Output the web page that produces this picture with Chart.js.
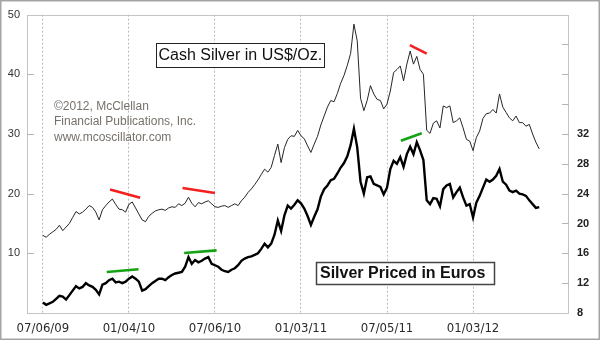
<!DOCTYPE html>
<html>
<head>
<meta charset="utf-8">
<script src="https://cdn.jsdelivr.net/npm/chart.js@4/dist/chart.umd.min.js"></script>
<style>
  html, body { margin: 0; padding: 0; background: #fff; }
  #wrap { position: relative; width: 600px; height: 341px; }
</style>
</head>
<body>
<div id="wrap"><canvas id="chart" width="600" height="341"></canvas></div>
<script>
// Weekly closes, week 0 = 07/06/09
const usdPrice = [
  13.0, 12.7, 13.2, 13.6, 14.0, 14.7, 13.8, 14.4, 15.0, 16.0,
  17.0, 16.6, 16.9, 17.4, 18.0, 17.7, 16.9, 15.6, 17.3, 18.0,
  18.6, 19.1, 18.2, 17.4, 17.3, 16.9, 18.2, 18.6, 17.6, 16.6,
  15.6, 15.3, 16.2, 16.7, 17.1, 17.3, 17.4, 17.2, 17.6, 17.8,
  17.7, 18.3, 18.0, 18.4, 19.4, 18.4, 17.8, 18.5, 18.3, 18.6,
  18.8, 18.3, 17.8, 17.7, 17.9, 18.0, 17.7, 18.0, 18.3, 18.0,
  18.8, 19.4, 20.2, 20.8, 21.5, 22.3, 23.2, 24.1, 23.6, 24.4,
  26.4, 28.3, 25.2, 27.7, 29.1, 29.7, 29.6, 30.6, 29.7, 29.2,
  28.0, 26.9, 28.3, 29.6, 31.5, 33.0, 34.5, 35.6, 35.4, 36.8,
  38.5, 39.8, 41.5, 43.5, 48.4, 45.6, 36.0, 33.9, 35.6, 38.1,
  36.7, 35.8, 35.6, 34.2, 35.0, 37.2, 40.3, 40.8, 41.4, 38.9,
  41.7, 43.9, 41.7, 43.0, 40.8, 40.0, 30.6, 30.1, 31.8, 32.2,
  31.0, 34.7, 34.4, 34.7, 31.9, 32.2, 32.7, 31.0, 29.1, 28.8,
  27.2, 29.4, 30.5, 32.6, 33.4, 33.5, 34.1, 33.5, 36.7, 34.5,
  33.6, 32.7, 32.2, 33.0, 31.9, 31.9, 31.3, 31.6, 30.0, 28.6,
  27.5
];

const eurPrice = [
  9.4, 9.1, 9.3, 9.5, 9.9, 10.3, 10.2, 9.8, 10.4, 11.0,
  11.6, 11.3, 11.5, 12.0, 11.7, 11.5, 11.1, 10.5, 11.8, 12.0,
  12.4, 12.6, 12.1, 12.2, 12.0, 12.2, 12.6, 12.9, 12.6, 12.2,
  11.0, 11.2, 11.6, 12.0, 12.3, 12.6, 12.6, 12.4, 12.8, 13.1,
  13.3, 13.4, 13.5, 14.2, 15.5, 14.6, 15.1, 14.8, 15.0, 15.3,
  15.5, 14.6, 14.4, 14.2, 13.8, 13.6, 13.5, 13.8, 14.0, 14.4,
  15.0, 15.3, 15.5, 15.6, 15.8, 16.0, 16.6, 17.3, 16.8, 17.3,
  18.5, 20.4, 19.0, 21.1, 22.4, 22.0, 22.5, 23.1, 22.7, 22.0,
  21.0, 19.8, 20.9, 21.9, 23.6, 24.6, 25.1, 25.8, 26.0, 26.7,
  27.5, 28.1, 29.0, 30.5, 32.7, 30.2, 25.6, 24.0, 26.2, 26.3,
  25.3, 25.1, 24.9, 23.9, 24.8, 27.3, 28.4, 28.0, 28.9, 27.6,
  29.3, 30.3, 29.3, 30.9, 29.8, 28.5, 23.1, 22.6, 23.4, 23.3,
  22.3, 24.6, 25.1, 25.3, 23.5, 24.2, 24.8, 23.5, 22.4, 22.6,
  20.8, 22.8, 23.7, 24.8, 25.9, 25.6, 25.9, 26.4, 27.3, 25.6,
  25.2, 24.4, 24.2, 24.4, 24.0, 23.9, 23.7, 23.1, 22.6, 22.1,
  22.2
];

// Date ticks (week offsets) and their labels
const tickWeeks  = [0, 26, 52, 78, 104, 130];
const tickLabels = ['07/06/09', '01/04/10', '07/06/10', '01/03/11', '07/05/11', '01/03/12'];

// Divergence trend lines: [week, price] pairs
const usdTrends = [
  [[20.3, 20.7], [29.4, 19.3]],
  [[42.2, 20.95], [52.0, 20.1]],
  [[110.9, 44.9], [116.0, 43.45]]
];
const eurTrends = [
  [[19.3, 13.5], [28.9, 13.87]],
  [[42.7, 16.05], [52.5, 16.4]],
  [[108.2, 31.1], [114.5, 32.1]]
];

const sansFont = "'Liberation Sans', Arial, Helvetica, sans-serif";
const narrowFont = "'Liberation Sans Narrow', 'Arial Narrow', 'DejaVu Sans Condensed', sans-serif";

const toPoints = arr => arr.map((v, i) => ({ x: i, y: v }));
const trendSets = (list, axis, color) => list.map(seg => ({
  data: seg.map(p => ({ x: p[0], y: p[1] })),
  yAxisID: axis,
  borderColor: color,
  borderWidth: 2.6,
  pointRadius: 0,
  borderCapStyle: 'butt'
}));

// Frame, plot border, inner tick marks and the text boxes
const decorations = {
  id: 'decorations',
  beforeDraw(chart) {
    const c = chart.ctx;
    c.save();
    c.fillStyle = '#fff';
    c.fillRect(0, 0, chart.width, chart.height);
    c.restore();
  },
  afterDatasetsDraw(chart) {
    const c = chart.ctx;
    const a = chart.chartArea;
    c.save();
    // plot border
    c.strokeStyle = '#c4c4c4';
    c.lineWidth = 1;
    c.strokeRect(Math.round(a.left) + 0.5, Math.round(a.top) + 0.5,
                 Math.round(a.right - a.left) - 1, Math.round(a.bottom - a.top));
    // inner tick marks on both value axes
    c.strokeStyle = '#b4b4b4';
    const y = chart.scales.y, y2 = chart.scales.y2;
    y.ticks.forEach(t => {
      if (t.value <= y.min || t.value >= y.max) return;
      const py = Math.round(y.getPixelForValue(t.value)) + 0.5;
      c.beginPath(); c.moveTo(a.left, py); c.lineTo(a.left + 7, py); c.stroke();
    });
    y2.ticks.forEach(t => {
      if (t.value <= y2.min || t.value >= y2.max) return;
      const py = Math.round(y2.getPixelForValue(t.value)) + 0.5;
      c.beginPath(); c.moveTo(a.right - 7, py); c.lineTo(a.right, py); c.stroke();
    });

    // title boxes
    c.textBaseline = 'middle';
    c.textAlign = 'left';
    c.fillStyle = '#fff';
    c.fillRect(156, 43, 168, 24);
    c.strokeStyle = '#222';
    c.lineWidth = 1;
    c.strokeRect(156.5, 43.5, 168, 24);
    c.fillStyle = '#111';
    c.font = '16px ' + sansFont;
    c.fillText('Cash Silver in US$/Oz.', 158.5, 56);

    c.fillStyle = '#fff';
    c.fillRect(316, 262, 178, 22);
    c.strokeStyle = '#444';
    c.lineWidth = 1.5;
    c.strokeRect(316.5, 262.5, 178, 22);
    c.fillStyle = '#111';
    c.font = 'bold 16px ' + sansFont;
    c.fillText('Silver Priced in Euros', 320, 274);

    // copyright note
    c.textBaseline = 'alphabetic';
    c.fillStyle = '#77716b';
    c.font = '12px ' + sansFont;
    c.fillText('\u00A92012, McClellan', 54, 110);
    c.fillText('Financial Publications, Inc.', 54, 125);
    c.fillText('www.mcoscillator.com', 54, 140.5);

    // outer frame
    c.strokeStyle = '#a4a4a4';
    c.lineWidth = 1.5;
    c.strokeRect(0.75, 0.75, chart.width - 1.5, chart.height - 2.5);
    c.restore();
  }
};

new Chart(document.getElementById('chart'), {
  type: 'line',
  data: {
    datasets: [
      { data: toPoints(usdPrice), yAxisID: 'y', borderColor: '#262626', borderWidth: 1, pointRadius: 0 },
      { data: toPoints(eurPrice), yAxisID: 'y2', borderColor: '#000', borderWidth: 2.4, pointRadius: 0 },
      ...trendSets(usdTrends, 'y', '#f42020'),
      ...trendSets(eurTrends, 'y2', '#14a314')
    ]
  },
  options: {
    responsive: false,
    animation: false,
    devicePixelRatio: 1,
    layout: { padding: { top: 13, left: 0, right: 0, bottom: 0 } },
    elements: { line: { tension: 0 } },
    plugins: { legend: { display: false }, tooltip: { enabled: false } },
    scales: {
      x: {
        type: 'linear',
        min: -4.8,
        max: 159,
        afterBuildTicks: s => { s.ticks = tickWeeks.map(v => ({ value: v })); },
        afterFit: s => { s.height = 28; },
        border: { display: false, dash: [2, 2] },
        grid: { display: true, drawOnChartArea: true, color: '#bcbcbc', drawTicks: false, lineWidth: 1 },
        ticks: {
          autoSkip: false, maxRotation: 0, padding: 8,
          color: '#2a2a2a',
          font: { family: narrowFont, size: 13 },
          callback: v => tickLabels[tickWeeks.indexOf(v)]
        }
      },
      y: {
        position: 'left',
        min: 0, max: 50,
        afterFit: s => { s.width = 27; },
        border: { display: false },
        grid: { drawOnChartArea: false, drawTicks: false },
        ticks: {
          stepSize: 10, padding: 7, color: '#333',
          font: { family: sansFont, size: 11 },
          callback: v => (v === 0 ? '' : v)
        }
      },
      y2: {
        position: 'right',
        min: 8, max: 48,
        afterFit: s => { s.width = 31; },
        border: { display: false },
        grid: { drawOnChartArea: false, drawTicks: false },
        ticks: {
          stepSize: 4, padding: 8, color: '#222',
          font: { family: sansFont, size: 11, weight: 'bold' },
          callback: v => (v <= 32 ? v : '')
        }
      }
    }
  },
  plugins: [decorations]
});
</script>
</body>
</html>
